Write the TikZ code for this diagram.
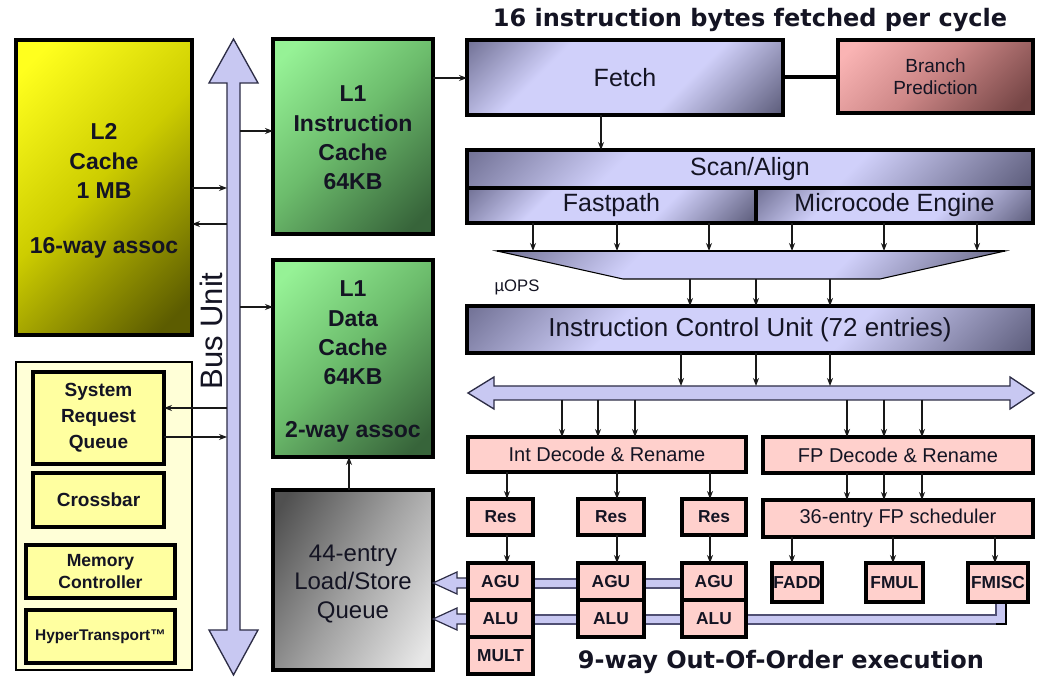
\documentclass[tikz,border=0pt]{standalone}
\usepackage{fontspec}
\setmainfont{Liberation Sans}
\newfontfamily\dvs{DejaVu Sans}
\usetikzlibrary{arrows.meta}
\definecolor{txtc}{RGB}{20,20,35}
\definecolor{lavmid}{RGB}{208,208,250}
\definecolor{lavdk}{RGB}{100,100,135}
\definecolor{lavdkb}{RGB}{88,88,118}
\definecolor{buslav}{RGB}{200,200,242}
\definecolor{busedge}{RGB}{45,45,70}
\definecolor{baredge}{RGB}{80,80,115}
\definecolor{pinkb}{RGB}{255,208,204}
\definecolor{ylo}{RGB}{255,255,160}
\definecolor{ylobg}{RGB}{255,255,215}
\definecolor{l2a}{RGB}{255,255,30}
\definecolor{l2b}{RGB}{205,205,0}
\definecolor{l2c}{RGB}{92,92,0}
\definecolor{g1}{RGB}{150,242,150}
\definecolor{g2}{RGB}{108,188,108}
\definecolor{g3}{RGB}{55,100,58}
\definecolor{k1}{RGB}{80,80,80}
\definecolor{k2}{RGB}{160,160,160}
\definecolor{k3}{RGB}{232,232,232}
\definecolor{r1}{RGB}{250,180,180}
\definecolor{r2}{RGB}{205,135,135}
\definecolor{r3}{RGB}{118,70,70}
\pgfdeclareverticalshading{lavsh}{100bp}{color(0bp)=(lavdkb); color(14bp)=(lavdkb); color(38bp)=(lavmid); color(66bp)=(lavmid); color(88bp)=(lavdk); color(100bp)=(lavdk)}
\pgfdeclareverticalshading{l2sh}{100bp}{color(0bp)=(l2c); color(20bp)=(l2c); color(52bp)=(l2b); color(80bp)=(l2a); color(100bp)=(l2a)}
\pgfdeclareverticalshading{gsh}{100bp}{color(0bp)=(g3); color(20bp)=(g3); color(52bp)=(g2); color(80bp)=(g1); color(100bp)=(g1)}
\pgfdeclareverticalshading{ksh}{100bp}{color(0bp)=(k3); color(20bp)=(k3); color(50bp)=(k2); color(80bp)=(k1); color(100bp)=(k1)}
\pgfdeclareverticalshading{rsh}{100bp}{color(0bp)=(r3); color(20bp)=(r3); color(52bp)=(r2); color(80bp)=(r1); color(100bp)=(r1)}
\newcommand\mkbox[7]{\node[#6,minimum width={((#4)-(#2))*0.75pt},minimum height={((#5)-(#3))*0.75pt},inner sep=0pt,outer sep=0pt] (#1) at ({((#2)+(#4))/2},{((#3)+(#5))/2}) {#7};}
\begin{document}
\begin{tikzpicture}[x=0.75pt,y=-0.75pt,
  every node/.style={text=txtc},
  box/.style={draw=black, line width=2.3pt},
  lav/.style={box, shade, shading=lavsh, shading angle=45},
  bigb/.style={align=center, inner sep=0pt, font=\fontsize{17.25}{22}\selectfont\bfseries},
  midr/.style={font=\fontsize{18.75}{22}\selectfont},
  pbox/.style={draw=black, line width=2.3pt, fill=pinkb, font=\fontsize{15}{18}\selectfont},
  pboxb/.style={pbox, font=\fontsize{13}{15}\selectfont\bfseries},
  inbox/.style={draw=black, line width=2.3pt, fill=ylo, align=center, font=\fontsize{14.25}{19.5}\selectfont\bfseries},
  bus/.style={fill=buslav, draw=busedge, line width=1pt, line join=miter},
  bar/.style={fill=buslav, draw=baredge, line width=0.9pt},
  ghost/.style={inner sep=0pt, outer sep=0pt, draw=none},
  arr/.style={draw=black!90, line width=0.9pt, -{Stealth[length=6pt,width=4.5pt]}},
  title/.style={font=\dvs\fontsize{18}{20}\selectfont\bfseries, inner sep=0pt, anchor=base}]
\useasboundingbox (0,0) rectangle (1043,680);
\fill[white] (0,0) rectangle (1043,680);

% ---- vertical bus unit
\filldraw[bus] (227,83) -- (209,83) -- (233.5,39) -- (258,83) -- (240,83) -- (240,630) -- (258,630) -- (233.5,675) -- (209,630) -- (227,630) -- cycle;
\node[ghost, minimum width=13*0.75pt, minimum height=547*0.75pt] (bus) at (233.5,356.5) {};
\node[rotate=90, anchor=base, inner sep=0pt, font=\fontsize{23.25}{26}\selectfont] (buslbl) at (222,331) {Bus Unit};

% ---- L2
\mkbox{l2}{16}{40}{192}{335}{box, shade, shading=l2sh, shading angle=45}{}
\node[bigb] (l2t) at (104,161) {L2\\Cache\\1 MB};
\node[bigb] (l2s) at (104,248) {16-way assoc};

% ---- system block
\mkbox{sysb}{16}{362}{192}{670}{draw=black, line width=1.8pt, fill=ylobg}{}
\mkbox{srq}{33}{372}{164}{464}{inbox}{System\\Request\\Queue}
\mkbox{xbar}{33}{473}{164}{527}{inbox}{Crossbar}
\mkbox{mem}{26}{545}{175}{598}{inbox, font=\fontsize{13.2}{17}\selectfont\bfseries}{Memory\\Controller}
\mkbox{ht}{26}{610}{175}{663}{inbox, font=\fontsize{11.6}{14}\selectfont\bfseries}{HyperTransport™}

% ---- L1 caches and LSQ
\mkbox{l1i}{273}{39}{433}{234}{box, shade, shading=gsh, shading angle=45}{}
\node[bigb] (l1it) at (353,138) {L1\\Instruction\\Cache\\64KB};
\mkbox{l1d}{273}{260}{433}{457}{box, shade, shading=gsh, shading angle=45}{}
\node[bigb] (l1dt) at (353,333) {L1\\Data\\Cache\\64KB};
\node[bigb] (l1ds) at (353,432) {2-way assoc};
\mkbox{lsq}{273}{490}{433}{670}{box, shade, shading=ksh, shading angle=60}{}
\node[align=center, inner sep=0pt, font=\fontsize{18}{21.4}\selectfont] (lsqt) at (353,584) {44-entry\\Load/Store\\Queue};

% ---- front end
\node[title] (t1) at (750,27) {16 instruction bytes fetched per cycle};
\mkbox{fetch}{467}{40}{783}{115}{lav, midr}{Fetch}
\mkbox{bp}{838}{40}{1033}{113}{box, shade, shading=rsh, shading angle=45, align=center, font=\fontsize{14.25}{16.5}\selectfont}{Branch\\Prediction}
\mkbox{scan}{467}{150}{1033}{188}{lav, midr}{Scan/Align}
\mkbox{fast}{467}{188}{756}{223}{lav, midr}{Fastpath}
\mkbox{micro}{756}{188}{1033}{223}{lav, midr}{Microcode Engine}

% funnel
\shadedraw[shading=lavsh, shading angle=45, draw=black, line width=0.8pt] (497,251) -- (1005,251) -- (880,279) -- (623,279) -- cycle;
\draw[line width=2pt] (497,251) -- (1005,251);
\node[ghost, minimum width=508*0.75pt, minimum height=28*0.75pt] (funnel) at (751,265) {};
\node[inner sep=0pt, font=\fontsize{12.5}{15}\selectfont] (uops) at (517,287) {µOPS};

\mkbox{icu}{467}{306}{1033}{353}{lav, font=\fontsize{19.5}{22}\selectfont}{Instruction Control Unit (72 entries)}

% horizontal bus
\filldraw[bus] (494,386) -- (494,377) -- (468,393) -- (494,409) -- (494,400) -- (1010,400) -- (1010,409) -- (1034,393) -- (1010,377) -- (1010,386) -- cycle;
\node[ghost, minimum width=516*0.75pt, minimum height=14*0.75pt] (hbus) at (752,393) {};

% ---- lavender result bars (under the boxes)
\filldraw[bus, line width=0.9pt] (468,578) -- (457,578) -- (457,572) -- (433,583) -- (457,594) -- (457,588) -- (468,588) -- cycle;
\filldraw[bus, line width=0.9pt] (468,614) -- (457,614) -- (457,608) -- (433,619) -- (457,630) -- (457,624) -- (468,624) -- cycle;
\filldraw[bar] (533,579) rectangle (578,588);
\filldraw[bar] (644,579) rectangle (682,588);
\filldraw[bar] (533,615) rectangle (578,624);
\filldraw[bar] (644,615) rectangle (682,624);
\filldraw[bar] (746,615) -- (996,615) -- (996,602) -- (1006,602) -- (1006,624) -- (746,624) -- cycle;
\draw[line width=2pt] (1006,602) -- (1006,624) -- (996,624);

% ---- integer side
\mkbox{intd}{468}{437}{746}{472}{pbox}{Int Decode \& Rename}
\mkbox{res1}{468}{499}{533}{535}{pboxb}{Res}
\mkbox{res2}{578}{499}{644}{535}{pboxb}{Res}
\mkbox{res3}{682}{499}{746}{535}{pboxb}{Res}
\mkbox{agu1}{468}{563}{533}{600}{pboxb}{AGU}
\mkbox{alu1}{468}{600}{533}{637}{pboxb}{ALU}
\mkbox{mult}{468}{637}{533}{674}{pboxb}{MULT}
\mkbox{agu2}{578}{563}{644}{600}{pboxb}{AGU}
\mkbox{alu2}{578}{600}{644}{637}{pboxb}{ALU}
\mkbox{agu3}{682}{563}{746}{600}{pboxb}{AGU}
\mkbox{alu3}{682}{600}{746}{637}{pboxb}{ALU}

% ---- FP side
\mkbox{fpd}{763}{437}{1033}{473}{pbox}{FP Decode \& Rename}
\mkbox{sched}{763}{500}{1033}{537}{pbox}{36-entry FP scheduler}
\mkbox{fadd}{772}{563}{822}{602}{pboxb}{FADD}
\mkbox{fmul}{866}{563}{923}{602}{pboxb}{FMUL}
\mkbox{fmisc}{968}{563}{1028}{602}{pboxb}{FMISC}

\node[title] (t2) at (781,668) {9-way Out-Of-Order execution};

% ---- connectors
\draw[arr] (l2.east |- 0,188) -- (bus.west |- 0,188);
\draw[arr] (bus.west |- 0,224) -- (l2.east |- 0,224);
\draw[arr] (bus.east |- 0,131) -- (l1i.west |- 0,131);
\draw[arr] (bus.east |- 0,307) -- (l1d.west |- 0,307);
\draw[arr] (bus.west |- 0,408) -- (srq.east |- 0,408);
\draw[arr] (srq.east |- 0,437) -- (bus.west |- 0,437);
\draw[arr] (lsq.north -| 349,0) -- (l1d.south -| 349,0);
\draw[arr] (l1i.east |- 0,78) -- (fetch.west |- 0,78);
\draw[line width=3pt] (fetch.east |- 0,77) -- (bp.west |- 0,77);
\draw[arr] (fetch.south -| 601,0) -- (scan.north -| 601,0);
\foreach \x in {533,617,709} \draw[arr] (fast.south -| \x,0) -- (funnel.north -| \x,0);
\foreach \x in {792,884,977} \draw[arr] (micro.south -| \x,0) -- (funnel.north -| \x,0);
\foreach \x in {690,756,830} \draw[arr] (funnel.south -| \x,0) -- (icu.north -| \x,0);
\foreach \x in {681,756,830} \draw[arr] (icu.south -| \x,0) -- (hbus.north -| \x,0);
\foreach \x in {562,598,635} \draw[arr] (hbus.south -| \x,0) -- (intd.north -| \x,0);
\foreach \x in {847,884,922} {
  \draw[arr] (hbus.south -| \x,0) -- (fpd.north -| \x,0);
  \draw[arr] (fpd.south -| \x,0) -- (sched.north -| \x,0);
}
\draw[arr] (intd.south -| 507,0) -- (res1.north -| 507,0);
\draw[arr] (intd.south -| 617,0) -- (res2.north -| 617,0);
\draw[arr] (intd.south -| 710,0) -- (res3.north -| 710,0);
\draw[arr] (res1.south -| 507,0) -- (agu1.north -| 507,0);
\draw[arr] (res2.south -| 617,0) -- (agu2.north -| 617,0);
\draw[arr] (res3.south -| 710,0) -- (agu3.north -| 710,0);
\draw[arr] (sched.south -| 792,0) -- (fadd.north -| 792,0);
\draw[arr] (sched.south -| 893,0) -- (fmul.north -| 893,0);
\draw[arr] (sched.south -| 995,0) -- (fmisc.north -| 995,0);
\end{tikzpicture}
\end{document}
